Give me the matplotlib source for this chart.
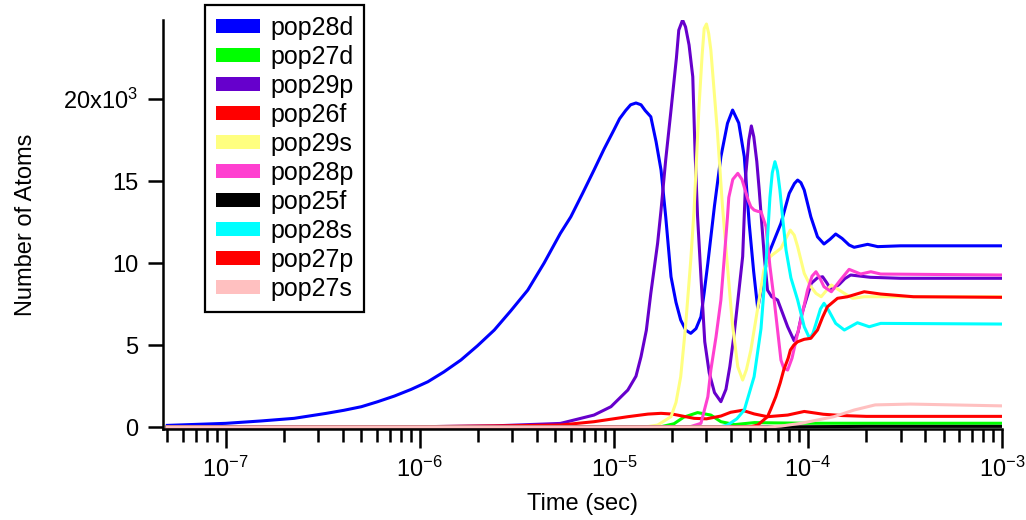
import matplotlib
matplotlib.use("Agg")
import matplotlib.pyplot as plt
from matplotlib.patches import Patch
from matplotlib.ticker import LogLocator, NullFormatter, FixedLocator, FixedFormatter

plt.rcParams['font.family'] = ['Liberation Sans', 'DejaVu Sans']
plt.rcParams['mathtext.fontset'] = 'custom'
plt.rcParams['mathtext.rm'] = 'Liberation Sans'
plt.rcParams['mathtext.default'] = 'regular'
plt.rcParams['axes.unicode_minus'] = False

# temps (s) i poblacions llegides del grafic
t_28d = [5.0e-8, 1.0e-7, 1.52e-7, 2.25e-7, 3.3e-7, 4.06e-7, 5.0e-7, 6.05e-7, 7.4e-7, 9.0e-7,
         1.1e-6, 1.33e-6, 1.63e-6, 1.98e-6, 2.42e-6, 2.94e-6, 3.6e-6, 4.37e-6, 5.3e-6, 6.0e-6,
         6.9e-6, 7.9e-6, 8.9e-6, 1.0e-5, 1.07e-5, 1.15e-5, 1.22e-5, 1.3e-5, 1.38e-5, 1.45e-5,
         1.55e-5, 1.65e-5, 1.75e-5, 1.85e-5, 1.97e-5, 2.09e-5, 2.21e-5, 2.35e-5, 2.49e-5, 2.65e-5,
         2.81e-5, 2.92e-5, 3.05e-5, 3.3e-5, 3.56e-5, 3.85e-5, 4.09e-5, 4.4e-5, 4.7e-5, 4.98e-5,
         5.25e-5, 5.51e-5, 5.8e-5, 6.19e-5, 6.7e-5, 7.26e-5, 8.01e-5, 8.52e-5, 8.85e-5, 9.2e-5,
         9.57e-5, 1.035e-4, 1.12e-4, 1.21e-4, 1.30e-4, 1.39e-4, 1.50e-4, 1.63e-4, 1.73e-4, 2.03e-4,
         2.29e-4, 3.0e-4, 1.0e-3]
pop28d = [100, 225, 370, 530, 835, 1020, 1240, 1540, 1890, 2290,
          2760, 3360, 4090, 4950, 5915, 7080, 8350, 10000, 11810, 12820,
          14250, 15670, 16950, 18110, 18800, 19300, 19650, 19760, 19650, 19300,
          18920, 17400, 15670, 12820, 9165, 7600, 6525, 5900, 5714, 6000,
          6726, 8200, 10000, 13500, 16480, 18520, 19330, 18540, 16480, 12420,
          9500, 7240, 8600, 10385, 11400, 12420, 14250, 14850, 15060, 14900,
          14450, 12820, 11600, 11160, 11450, 11770, 11500, 11100, 10960, 11140,
          11000, 11050, 11050]

t_27d = [5e-8, 1.5e-5, 1.75e-5, 2.04e-5, 2.29e-5, 2.7e-5, 3.16e-5, 3.56e-5, 4.2e-5, 5.3e-5,
         7e-5, 1e-4, 1e-3]
pop27d = [0, 0, 20, 200, 600, 880, 730, 325, 150, 270, 250, 230, 230]

t_29p = [5e-8, 1e-6, 2.4e-6, 5.3e-6, 7.9e-6, 9.66e-6, 1.18e-5, 1.3e-5, 1.38e-5, 1.47e-5,
         1.55e-5, 1.68e-5, 1.75e-5, 1.85e-5, 1.97e-5, 2.1e-5, 2.16e-5, 2.26e-5, 2.34e-5, 2.44e-5,
         2.55e-5, 2.62e-5, 2.7e-5, 2.81e-5, 2.94e-5, 3.1e-5, 3.3e-5, 3.56e-5, 3.78e-5, 3.96e-5,
         4.17e-5, 4.38e-5, 4.61e-5, 4.79e-5, 4.96e-5, 5.11e-5, 5.26e-5, 5.45e-5, 5.61e-5, 5.96e-5,
         6.19e-5, 6.5e-5, 6.98e-5, 7.86e-5, 8.49e-5, 8.9e-5, 9.3e-5, 1.04e-4, 1.12e-4, 1.19e-4,
         1.25e-4, 1.32e-4, 1.45e-4, 1.55e-4, 1.66e-4, 2.1e-4, 3e-4, 1e-3]
pop29p = [0, 20, 70, 220, 730, 1240, 2255, 3100, 4290, 5900,
          8150, 11200, 13230, 16300, 19330, 22500, 24200, 24820, 24400, 23300,
          21360, 16800, 12820, 9165, 5200, 3300, 2100, 1545, 2300, 3700,
          5715, 8000, 10400, 15470, 17500, 18360, 17700, 16200, 14450, 10385,
          8350, 7950, 7745, 6115, 5260, 5800, 6900, 8760, 9100, 9165,
          8800, 8350, 8700, 9050, 9270, 9130, 9070, 9070]

t_26f = [5e-8, 1e-6, 3e-6, 5.3e-6, 7.9e-6, 1.18e-5, 1.5e-5, 1.75e-5, 2.0e-5, 2.59e-5,
         3.0e-5, 3.56e-5, 4.0e-5, 4.6e-5, 5.28e-5, 6.19e-5, 7.86e-5, 9.57e-5, 1.2e-4, 1.5e-4,
         2.0e-4, 1e-3]
pop26f = [0, 20, 80, 120, 325, 630, 790, 835, 790, 530,
          500, 670, 900, 1020, 800, 630, 730, 950, 780, 700,
          650, 650]

t_29s = [5e-8, 1e-5, 1.5e-5, 1.68e-5, 1.97e-5, 2.09e-5, 2.21e-5, 2.34e-5, 2.49e-5, 2.59e-5,
         2.74e-5, 2.85e-5, 2.92e-5, 3.0e-5, 3.08e-5, 3.16e-5, 3.42e-5, 3.62e-5, 3.85e-5, 4.08e-5,
         4.35e-5, 4.61e-5, 4.82e-5, 5.08e-5, 5.33e-5, 5.6e-5, 5.93e-5, 6.4e-5, 7.26e-5, 7.7e-5,
         8.11e-5, 8.5e-5, 8.85e-5, 9.57e-5, 1.03e-4, 1.1e-4, 1.17e-4, 1.24e-4, 1.32e-4, 1.54e-4,
         1.7e-4, 1.95e-4, 1e-3]
pop29s = [0, 0, 30, 120, 630, 1500, 3070, 6115, 10180, 13230,
          19330, 22700, 24300, 24575, 24000, 22990, 17910, 13600, 9775, 6300,
          3677, 2866, 3500, 4695, 6200, 7745, 9575, 10400, 10900, 11500,
          12010, 11700, 11000, 9370, 8600, 8150, 7945, 8300, 8660, 8150,
          7850, 7945, 7945]

t_28p = [5e-8, 2.3e-5, 2.49e-5, 2.81e-5, 3.05e-5, 3.16e-5, 3.36e-5, 3.56e-5, 3.71e-5, 3.85e-5,
         3.91e-5, 4.1e-5, 4.35e-5, 4.57e-5, 4.92e-5, 5.08e-5, 5.28e-5, 5.52e-5, 5.73e-5, 6.08e-5,
         6.37e-5, 6.7e-5, 7.26e-5, 7.5e-5, 7.86e-5, 8.28e-5, 8.85e-5, 9.39e-5, 9.95e-5, 1.05e-4,
         1.1e-4, 1.15e-4, 1.21e-4, 1.32e-4, 1.47e-4, 1.63e-4, 1.87e-4, 2.11e-4, 2.37e-4, 1e-3]
pop28p = [0, 0, 30, 225, 1850, 3475, 5500, 7745, 10385, 12820,
          14000, 15100, 15470, 15100, 13840, 13430, 13230, 13150, 13130, 12215,
          9800, 7745, 4085, 3600, 3475, 4200, 5715, 7000, 8350, 9200,
          9470, 9100, 8555, 8250, 8965, 9615, 9330, 9470, 9330, 9270]

t_25f = [5e-8, 5e-5, 1e-4, 2e-4, 1e-3]
pop25f = [0, 0, 20, 40, 40]

t_28s = [5e-8, 3.5e-5, 3.85e-5, 4.3e-5, 4.7e-5, 5.28e-5, 5.73e-5, 6.08e-5, 6.37e-5, 6.55e-5,
         6.76e-5, 6.97e-5, 7.17e-5, 7.43e-5, 7.71e-5, 8.17e-5, 8.85e-5, 9.57e-5, 1.02e-4, 1.06e-4,
         1.1e-4, 1.16e-4, 1.21e-4, 1.28e-4, 1.39e-4, 1.54e-4, 1.8e-4, 2.07e-4, 2.37e-4, 1e-3]
pop28s = [0, 0, 120, 500, 1037, 3070, 6000, 10000, 14000, 15500,
          16180, 15600, 14450, 12600, 10800, 9100, 7745, 6115, 5410, 5700,
          6300, 7200, 7545, 7100, 6320, 5915, 6360, 6115, 6320, 6280]

t_27p = [5e-8, 5e-5, 5.51e-5, 6.19e-5, 6.44e-5, 6.83e-5, 7.2e-5, 7.5e-5, 7.91e-5, 8.12e-5,
         8.46e-5, 8.85e-5, 9.57e-5, 1.035e-4, 1.12e-4, 1.19e-4, 1.26e-4, 1.42e-4, 1.6e-4, 1.95e-4,
         2.37e-4, 3.5e-4, 1e-3]
pop27p = [0, 0, 120, 630, 1100, 1850, 2700, 3475, 4200, 4695,
          5000, 5200, 5350, 5410, 5915, 6700, 7335, 7850, 7945, 8250,
          8110, 7945, 7910]

t_27s = [5e-8, 6.2e-5, 7.26e-5, 9.2e-5, 1.36e-4, 1.73e-4, 2.22e-4, 3.38e-4, 1e-3]
pop27s = [0, 0, 60, 225, 630, 1037, 1350, 1400, 1290]

labels = ['pop28d', 'pop27d', 'pop29p', 'pop26f', 'pop29s', 'pop28p', 'pop25f', 'pop28s', 'pop27p', 'pop27s']
colors = ['#0000ff', '#00ff00', '#6600cc', '#ff0000', '#ffff80', '#ff40d0', '#000000', '#00ffff', '#ff0000', '#ffc0c0']

y_ticks = [0, 5000, 10000, 15000, 20000]
y_tick_labels = ['0', '5', '10', '15', '20x10$^{3}$']


def main():
    series = [(t_28d, pop28d), (t_27d, pop27d), (t_29p, pop29p), (t_26f, pop26f), (t_29s, pop29s),
              (t_28p, pop28p), (t_25f, pop25f), (t_28s, pop28s), (t_27p, pop27p), (t_27s, pop27s)]

    fig = plt.figure(figsize=(10.26, 5.2), dpi=100)
    ax = fig.add_axes([163 / 1026, 1 - 429 / 520, (1002 - 163) / 1026, (429 - 20) / 520])

    for (t, y), c in zip(series, colors):
        ax.plot(t, y, color=c, lw=2.2, solid_joinstyle='round')

    ax.set_xscale('log')
    ax.set_xlim(4.75e-8, 1e-3)
    ax.set_ylim(-120, 24820)

    ax.xaxis.set_major_locator(LogLocator(base=10, numticks=20))
    ax.xaxis.set_minor_locator(LogLocator(base=10, subs=range(2, 10), numticks=100))
    ax.xaxis.set_minor_formatter(NullFormatter())
    ax.yaxis.set_major_locator(FixedLocator(y_ticks))
    ax.yaxis.set_major_formatter(FixedFormatter(y_tick_labels))

    for s in ['top', 'right']:
        ax.spines[s].set_visible(False)
    for s in ['left', 'bottom']:
        ax.spines[s].set_linewidth(1.8)

    ax.tick_params(axis='x', which='major', direction='out', length=14, width=1.8, labelsize=17, pad=6)
    ax.tick_params(axis='x', which='minor', direction='out', length=9, width=1.8)
    ax.tick_params(axis='y', which='major', direction='out', length=11, width=1.8, labelsize=17, pad=7)

    ax.set_xlabel('Time (sec)', fontsize=17, labelpad=8)
    ax.set_ylabel('Number of Atoms', fontsize=17, labelpad=19)

    handles = [Patch(facecolor=c, edgecolor='none') for c in colors]
    leg = fig.legend(handles, labels, loc='upper left', bbox_to_anchor=(205 / 1026, 1 - 5 / 520),
                     bbox_transform=fig.transFigure, borderaxespad=0, fontsize=18,
                     handlelength=1.76, handleheight=0.52, handletextpad=0.4,
                     labelspacing=0.2, borderpad=0.44, fancybox=False, framealpha=1)
    leg.get_frame().set_edgecolor('black')
    leg.get_frame().set_linewidth(1.6)

    fig.savefig('out.png', dpi=100)


if __name__ == '__main__':
    main()
